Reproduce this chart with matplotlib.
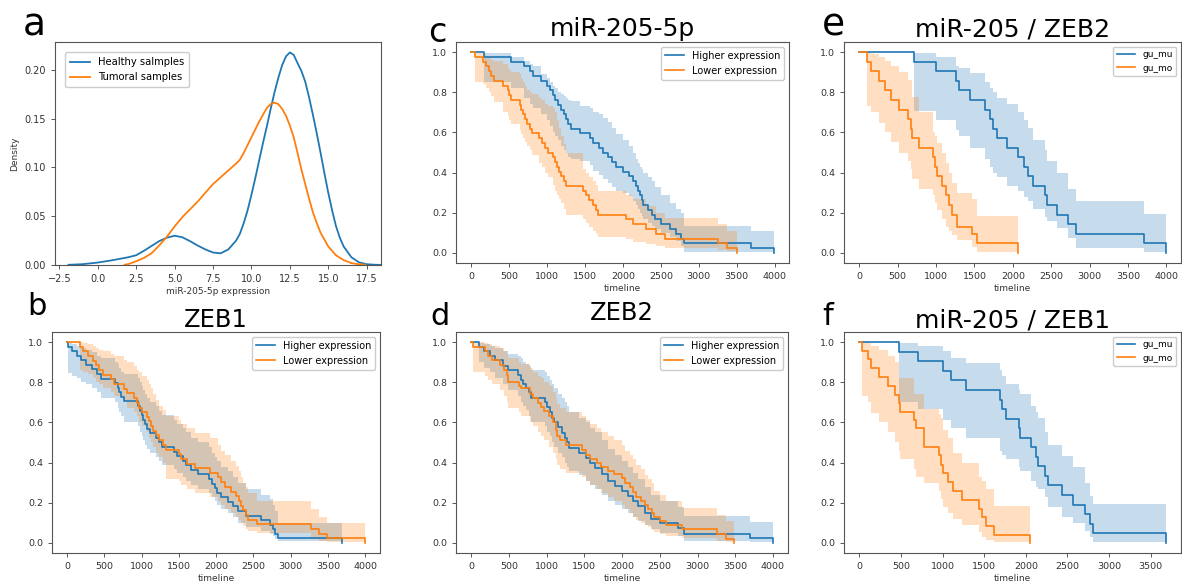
import matplotlib
matplotlib.use("Agg")
import matplotlib.pyplot as plt

plt.rcParams['font.family'] = ['DejaVu Sans']
plt.rcParams['axes.edgecolor'] = '#555555'
plt.rcParams['axes.linewidth'] = 0.8
plt.rcParams['xtick.color'] = '#555555'
plt.rcParams['ytick.color'] = '#555555'
plt.rcParams['xtick.labelcolor'] = '#333333'
plt.rcParams['ytick.labelcolor'] = '#333333'

BLUE = '#1f77b4'
ORANGE = '#ff7f0e'

# ---------------- panel a : density curves ----------------
a_healthy_x = [-1.9, -1.0, 0.0, 1.0, 2.0, 2.5, 3.0, 3.5, 4.0, 4.5, 5.0, 5.5, 6.0, 6.5, 7.0, 7.5, 8.0, 8.5,
               9.0, 9.25, 9.5, 9.75, 10.0, 10.25, 10.5, 10.75, 11.0, 11.25, 11.5, 11.75, 12.0, 12.25, 12.5,
               12.75, 13.0, 13.25, 13.5, 13.75, 14.0, 14.25, 14.5, 14.75, 15.0, 15.25, 15.5, 15.75, 16.0,
               16.5, 17.0, 17.5, 18.0, 18.4]
a_healthy_d = [0.0002, 0.0008, 0.0025, 0.005, 0.008, 0.010, 0.0145, 0.0195, 0.0245, 0.028, 0.030, 0.0285,
               0.0245, 0.020, 0.016, 0.0128, 0.012, 0.016, 0.025, 0.032, 0.043, 0.056, 0.072, 0.089, 0.107,
               0.125, 0.142, 0.160, 0.177, 0.192, 0.205, 0.214, 0.218, 0.2155, 0.207, 0.199, 0.188, 0.172,
               0.154, 0.135, 0.115, 0.094, 0.074, 0.056, 0.040, 0.028, 0.019, 0.008, 0.0027, 0.0008, 0.0003,
               0.0001]
a_tumoral_x = [1.75, 2.0, 2.5, 3.0, 3.5, 4.0, 4.5, 5.0, 5.5, 6.0, 6.5, 7.0, 7.5, 8.0, 8.5, 9.0, 9.25, 9.5,
               9.75, 10.0, 10.25, 10.5, 10.75, 11.0, 11.25, 11.5, 11.75, 12.0, 12.25, 12.5, 12.75, 13.0,
               13.25, 13.5, 13.75, 14.0, 14.25, 14.5, 15.0, 15.5, 16.0, 16.5, 17.0, 17.4]
a_tumoral_d = [0.0003, 0.001, 0.0038, 0.0072, 0.012, 0.020, 0.029, 0.0395, 0.049, 0.057, 0.065, 0.074,
               0.083, 0.090, 0.097, 0.104, 0.108, 0.115, 0.123, 0.131, 0.139, 0.147, 0.154, 0.161, 0.165,
               0.1665, 0.165, 0.160, 0.153, 0.143, 0.131, 0.115, 0.098, 0.083, 0.068, 0.054, 0.043, 0.033,
               0.019, 0.010, 0.005, 0.002, 0.0007, 0.0003]

# ---------------- panel c : miR-205-5p ----------------
c_high_t = [0, 165, 520, 700, 780, 820, 920, 1000, 1040, 1080, 1110, 1150, 1190, 1220, 1250, 1280, 1310,
            1430, 1570, 1610, 1680, 1740, 1800, 1860, 1910, 2000, 2083, 2130, 2170, 2200, 2230, 2250, 2270,
            2330, 2380, 2420, 2500, 2620, 2700, 2770, 2810, 3690, 3990]
c_high_s = [1.0, 0.976, 0.952, 0.929, 0.905, 0.881, 0.857, 0.833, 0.810, 0.786, 0.762, 0.738, 0.714, 0.690,
            0.667, 0.643, 0.619, 0.595, 0.571, 0.548, 0.524, 0.500, 0.476, 0.452, 0.429, 0.405, 0.381,
            0.357, 0.333, 0.310, 0.286, 0.262, 0.238, 0.214, 0.190, 0.167, 0.143, 0.119, 0.095, 0.071,
            0.048, 0.024, 0.0]
c_high_lo = [1.0, 0.85, 0.82, 0.77, 0.74, 0.72, 0.69, 0.66, 0.63, 0.60, 0.58, 0.56, 0.53, 0.51, 0.50, 0.48,
             0.47, 0.46, 0.44, 0.41, 0.39, 0.37, 0.35, 0.33, 0.31, 0.30, 0.285, 0.26, 0.24, 0.22, 0.20,
             0.185, 0.17, 0.15, 0.134, 0.12, 0.10, 0.08, 0.06, 0.035, 0.006, 0.003, 0.0]
c_high_up = [1.0, 0.997, 0.975, 0.955, 0.94, 0.93, 0.89, 0.87, 0.85, 0.83, 0.82, 0.80, 0.79, 0.78, 0.77,
             0.76, 0.755, 0.73, 0.72, 0.70, 0.69, 0.67, 0.65, 0.62, 0.59, 0.56, 0.53, 0.50, 0.47, 0.45,
             0.43, 0.42, 0.40, 0.38, 0.36, 0.33, 0.29, 0.25, 0.22, 0.20, 0.134, 0.109, 0.0]
c_low_t = [0, 55, 150, 200, 230, 260, 300, 420, 490, 500, 520, 640, 660, 680, 710, 740, 770, 800, 900, 930,
           980, 1015, 1080, 1100, 1130, 1160, 1190, 1220, 1255, 1470, 1510, 1550, 1600, 1640, 1670, 2040,
           2130, 2300, 2430, 2560, 3260, 3370, 3500]
c_low_s = [1.0, 0.976, 0.952, 0.929, 0.905, 0.881, 0.857, 0.833, 0.810, 0.786, 0.762, 0.738, 0.714, 0.690,
           0.667, 0.643, 0.619, 0.595, 0.571, 0.548, 0.524, 0.500, 0.476, 0.452, 0.429, 0.405, 0.381, 0.357,
           0.333, 0.310, 0.286, 0.262, 0.238, 0.214, 0.190, 0.167, 0.143, 0.119, 0.095, 0.071, 0.048,
           0.024, 0.0]
c_low_lo = [1.0, 0.85, 0.84, 0.82, 0.80, 0.78, 0.75, 0.70, 0.68, 0.66, 0.64, 0.61, 0.59, 0.57, 0.55, 0.53,
            0.51, 0.49, 0.45, 0.43, 0.40, 0.38, 0.34, 0.31, 0.29, 0.27, 0.25, 0.22, 0.19, 0.17, 0.15, 0.13,
            0.11, 0.095, 0.08, 0.067, 0.055, 0.045, 0.034, 0.025, 0.017, 0.008, 0.0]
c_low_up = [1.0, 0.997, 0.99, 0.98, 0.97, 0.96, 0.955, 0.94, 0.92, 0.91, 0.90, 0.89, 0.87, 0.85, 0.83,
            0.81, 0.80, 0.79, 0.77, 0.76, 0.74, 0.73, 0.72, 0.70, 0.66, 0.62, 0.58, 0.54, 0.50, 0.42, 0.40,
            0.38, 0.36, 0.34, 0.31, 0.29, 0.27, 0.235, 0.20, 0.175, 0.142, 0.109, 0.0]

# ---------------- panel e : miR-205 / ZEB2 ----------------
e_mu_t = [0, 710, 1000, 1255, 1298, 1438, 1634, 1700, 1743, 1787, 1926, 2070, 2144, 2200, 2266, 2418, 2440,
          2571, 2723, 2819, 3704, 3990]
e_mu_s = [1.0, 0.952, 0.905, 0.857, 0.810, 0.762, 0.714, 0.667, 0.619, 0.571, 0.524, 0.476, 0.429, 0.381,
          0.333, 0.286, 0.238, 0.190, 0.143, 0.095, 0.048, 0.0]
e_mu_lo = [1.0, 0.707, 0.66, 0.61, 0.58, 0.52, 0.47, 0.43, 0.40, 0.38, 0.335, 0.31, 0.28, 0.26, 0.22, 0.18,
           0.16, 0.125, 0.075, 0.025, 0.005, 0.0]
e_mu_up = [1.0, 0.995, 0.975, 0.93, 0.92, 0.895, 0.85, 0.82, 0.80, 0.77, 0.74, 0.70, 0.66, 0.62, 0.56, 0.51,
           0.46, 0.40, 0.32, 0.26, 0.196, 0.0]
e_mo_t = [0, 100, 152, 253, 340, 414, 514, 632, 667, 690, 776, 959, 980, 1011, 1081, 1133, 1164, 1211, 1270,
          1473, 1538, 2070]
e_mo_s = [1.0, 0.952, 0.905, 0.857, 0.810, 0.762, 0.714, 0.667, 0.619, 0.571, 0.524, 0.476, 0.429, 0.381,
          0.333, 0.286, 0.238, 0.190, 0.129, 0.095, 0.048, 0.0]
e_mo_lo = [1.0, 0.73, 0.70, 0.645, 0.60, 0.55, 0.50, 0.46, 0.42, 0.37, 0.32, 0.29, 0.25, 0.215, 0.17, 0.13,
           0.11, 0.09, 0.065, 0.03, 0.003, 0.0]
e_mo_up = [1.0, 1.0, 0.99, 0.975, 0.955, 0.93, 0.90, 0.86, 0.86, 0.774, 0.70, 0.60, 0.58, 0.545, 0.50, 0.45,
           0.40, 0.35, 0.30, 0.27, 0.185, 0.0]

# ---------------- panel b : ZEB1 ----------------
b_high_t = [0, 20, 70, 130, 190, 260, 330, 400, 460, 650, 680, 700, 730, 760, 950, 975, 1000, 1020, 1050,
            1080, 1120, 1190, 1240, 1280, 1440, 1480, 1550, 1600, 1660, 1760, 1900, 1940, 1980, 2010, 2070,
            2160, 2220, 2290, 2400, 2600, 2720, 2760, 2790, 2830, 3690]
b_high_s = [1.0, 0.977, 0.955, 0.932, 0.909, 0.886, 0.864, 0.841, 0.818, 0.795, 0.773, 0.750, 0.727, 0.705,
            0.682, 0.659, 0.636, 0.614, 0.591, 0.568, 0.545, 0.523, 0.500, 0.477, 0.455, 0.432, 0.409,
            0.386, 0.364, 0.341, 0.318, 0.295, 0.273, 0.250, 0.227, 0.205, 0.182, 0.159, 0.136, 0.114,
            0.091, 0.068, 0.045, 0.023, 0.0]
b_high_lo = [1.0, 0.845, 0.83, 0.82, 0.80, 0.79, 0.77, 0.75, 0.72, 0.70, 0.67, 0.65, 0.63, 0.60, 0.58, 0.55,
             0.53, 0.51, 0.49, 0.47, 0.45, 0.43, 0.41, 0.39, 0.37, 0.35, 0.33, 0.31, 0.29, 0.27, 0.25,
             0.23, 0.21, 0.19, 0.17, 0.15, 0.13, 0.10, 0.08, 0.06, 0.045, 0.035, 0.02, 0.008, 0.0]
b_high_up = [1.0, 0.997, 0.99, 0.98, 0.97, 0.96, 0.95, 0.93, 0.92, 0.90, 0.89, 0.87, 0.85, 0.84, 0.82, 0.80,
             0.78, 0.76, 0.74, 0.72, 0.70, 0.68, 0.655, 0.635, 0.61, 0.59, 0.57, 0.55, 0.52, 0.50, 0.48,
             0.45, 0.43, 0.41, 0.38, 0.36, 0.33, 0.30, 0.27, 0.24, 0.22, 0.19, 0.16, 0.10, 0.0]
b_low_t = [0, 175, 218, 283, 350, 392, 436, 480, 590, 630, 760, 800, 900, 940, 970, 1000, 1068, 1100, 1130,
           1155, 1198, 1240, 1285, 1330, 1500, 1525, 1612, 1721, 1917, 2026, 2070, 2114, 2201, 2266, 2300,
           2331, 2360, 2397, 2430, 2549, 3268, 3377, 3486, 3996]
b_low_s = [1.0, 0.977, 0.953, 0.930, 0.907, 0.884, 0.860, 0.837, 0.814, 0.791, 0.767, 0.744, 0.721, 0.698,
           0.674, 0.651, 0.628, 0.605, 0.581, 0.558, 0.535, 0.512, 0.488, 0.465, 0.442, 0.419, 0.395,
           0.372, 0.349, 0.326, 0.302, 0.279, 0.256, 0.233, 0.209, 0.186, 0.163, 0.140, 0.116, 0.093,
           0.070, 0.047, 0.023, 0.0]
b_low_lo = [1.0, 0.86, 0.85, 0.84, 0.82, 0.80, 0.79, 0.77, 0.75, 0.73, 0.70, 0.67, 0.65, 0.63, 0.60, 0.58,
            0.55, 0.52, 0.50, 0.48, 0.45, 0.43, 0.40, 0.32, 0.31, 0.29, 0.27, 0.25, 0.23, 0.21, 0.19, 0.17,
            0.15, 0.13, 0.115, 0.10, 0.085, 0.07, 0.06, 0.05, 0.02, 0.012, 0.005, 0.0]
b_low_up = [1.0, 1.0, 0.995, 0.99, 0.98, 0.97, 0.96, 0.955, 0.94, 0.93, 0.91, 0.90, 0.88, 0.86, 0.85, 0.83,
            0.81, 0.79, 0.77, 0.74, 0.71, 0.68, 0.66, 0.63, 0.61, 0.59, 0.57, 0.545, 0.52, 0.49, 0.46,
            0.44, 0.41, 0.385, 0.36, 0.33, 0.30, 0.28, 0.25, 0.21, 0.17, 0.13, 0.10, 0.0]

# ---------------- panel d : ZEB2 ----------------
d_high_t = [0, 100, 165, 250, 318, 427, 492, 620, 660, 688, 730, 770, 800, 980, 1000, 1040, 1070, 1100,
            1150, 1200, 1240, 1270, 1300, 1430, 1516, 1580, 1646, 1733, 1820, 1908, 1995, 2082, 2150, 2213,
            2300, 2387, 2500, 2736, 2823, 3694, 3999]
d_high_s = [1.0, 0.977, 0.955, 0.932, 0.91, 0.88, 0.86, 0.835, 0.81, 0.79, 0.77, 0.75, 0.72, 0.70, 0.675,
            0.65, 0.62, 0.60, 0.575, 0.545, 0.52, 0.50, 0.475, 0.45, 0.425, 0.40, 0.375, 0.345, 0.31, 0.285,
            0.26, 0.235, 0.21, 0.185, 0.15, 0.12, 0.10, 0.075, 0.047, 0.023, 0.0]
d_high_lo = [1.0, 0.90, 0.87, 0.85, 0.82, 0.79, 0.76, 0.73, 0.70, 0.68, 0.66, 0.63, 0.60, 0.58, 0.55, 0.53,
             0.50, 0.48, 0.45, 0.43, 0.40, 0.38, 0.36, 0.34, 0.31, 0.29, 0.27, 0.24, 0.21, 0.19, 0.17,
             0.15, 0.13, 0.11, 0.09, 0.07, 0.05, 0.035, 0.01, 0.005, 0.0]
d_high_up = [1.0, 0.997, 0.99, 0.98, 0.97, 0.955, 0.94, 0.93, 0.92, 0.90, 0.89, 0.88, 0.86, 0.85, 0.83,
             0.81, 0.79, 0.77, 0.74, 0.72, 0.70, 0.68, 0.65, 0.62, 0.60, 0.57, 0.55, 0.51, 0.47, 0.44,
             0.41, 0.38, 0.35, 0.32, 0.28, 0.24, 0.21, 0.18, 0.134, 0.105, 0.0]
d_low_t = [0, 30, 190, 230, 280, 383, 440, 470, 490, 640, 666, 775, 820, 884, 930, 971, 1030, 1080, 1124,
           1140, 1180, 1255, 1472, 1520, 1580, 1668, 1720, 1820, 1900, 1995, 2040, 2100, 2150, 2191, 2250,
           2300, 2340, 2400, 2427, 2500, 2584, 2800, 3263, 3372, 3481]
d_low_s = [1.0, 0.977, 0.955, 0.932, 0.91, 0.887, 0.86, 0.835, 0.80, 0.78, 0.77, 0.74, 0.72, 0.695, 0.675,
           0.655, 0.63, 0.60, 0.56, 0.53, 0.51, 0.49, 0.465, 0.44, 0.42, 0.40, 0.38, 0.36, 0.345, 0.325,
           0.30, 0.28, 0.255, 0.23, 0.21, 0.19, 0.17, 0.15, 0.13, 0.11, 0.09, 0.067, 0.045, 0.022, 0.0]
d_low_lo = [1.0, 0.85, 0.83, 0.81, 0.79, 0.76, 0.73, 0.70, 0.67, 0.65, 0.63, 0.60, 0.58, 0.55, 0.53, 0.51,
            0.48, 0.45, 0.42, 0.39, 0.37, 0.35, 0.33, 0.31, 0.29, 0.27, 0.25, 0.23, 0.21, 0.19, 0.17,
            0.15, 0.13, 0.115, 0.10, 0.09, 0.08, 0.065, 0.055, 0.045, 0.035, 0.025, 0.012, 0.005, 0.0]
d_low_up = [1.0, 1.0, 0.997, 0.99, 0.98, 0.97, 0.955, 0.94, 0.92, 0.90, 0.89, 0.87, 0.85, 0.83, 0.82, 0.80,
            0.78, 0.75, 0.72, 0.69, 0.67, 0.65, 0.63, 0.61, 0.59, 0.57, 0.55, 0.53, 0.51, 0.49, 0.46,
            0.44, 0.42, 0.39, 0.37, 0.34, 0.32, 0.30, 0.26, 0.24, 0.21, 0.175, 0.14, 0.11, 0.0]

# ---------------- panel f : miR-205 / ZEB1 ----------------
f_mu_t = [0, 475, 710, 1000, 1100, 1285, 1690, 1715, 1765, 1915, 1925, 2065, 2125, 2150, 2225, 2265, 2440,
          2565, 2715, 2770, 2810, 3680]
f_mu_s = [1.0, 0.952, 0.905, 0.857, 0.810, 0.762, 0.714, 0.667, 0.619, 0.571, 0.524, 0.476, 0.429, 0.381,
          0.333, 0.286, 0.238, 0.190, 0.143, 0.095, 0.048, 0.0]
f_mu_lo = [1.0, 0.70, 0.665, 0.61, 0.57, 0.52, 0.46, 0.44, 0.42, 0.38, 0.36, 0.31, 0.28, 0.27, 0.23, 0.18,
           0.13, 0.10, 0.06, 0.03, 0.003, 0.0]
f_mu_up = [1.0, 0.997, 0.98, 0.955, 0.92, 0.895, 0.86, 0.83, 0.79, 0.76, 0.74, 0.68, 0.65, 0.62, 0.55, 0.49,
           0.435, 0.38, 0.30, 0.235, 0.196, 0.0]
f_mo_t = [0, 32, 100, 140, 233, 341, 433, 473, 493, 662, 682, 782, 954, 982, 1010, 1070, 1122, 1230, 1443,
          1475, 1524, 1616, 2045]
f_mo_s = [1.0, 0.955, 0.915, 0.87, 0.825, 0.78, 0.737, 0.695, 0.65, 0.61, 0.57, 0.477, 0.436, 0.39, 0.348,
          0.305, 0.26, 0.214, 0.17, 0.129, 0.084, 0.042, 0.0]
f_mo_lo = [1.0, 0.73, 0.70, 0.645, 0.60, 0.55, 0.50, 0.46, 0.42, 0.37, 0.33, 0.30, 0.26, 0.22, 0.18, 0.15,
           0.12, 0.09, 0.055, 0.03, 0.015, 0.003, 0.0]
f_mo_up = [1.0, 1.0, 0.995, 0.98, 0.96, 0.93, 0.90, 0.82, 0.82, 0.74, 0.74, 0.665, 0.64, 0.62, 0.56, 0.52,
           0.45, 0.40, 0.33, 0.31, 0.27, 0.185, 0.0]

W, H = 1182, 581
fig = plt.figure(figsize=(W / 100, H / 100), dpi=100)


def add_axes(l, t, r, b):
    return fig.add_axes([l / W, 1 - b / H, (r - l) / W, (b - t) / H])


def km(ax, t, s, lo, up, color, label):
    ax.fill_between(t, lo, up, step='post', color=color, alpha=0.25, linewidth=0)
    ax.step(t, s, where='post', color=color, lw=1.2, label=label)


def style(ax, xticks):
    ax.set_xticks(xticks)
    ax.set_yticks([0.0, 0.2, 0.4, 0.6, 0.8, 1.0])
    ax.set_yticklabels(['0.0', '0.2', '0.4', '0.6', '0.8', '1.0'])
    ax.tick_params(labelsize=6.8, length=3, width=0.7)
    ax.set_xlabel('timeline', fontsize=6.5, color='#333333', labelpad=2)
    ax.margins(x=0.05, y=0.05)


# panel a
ax = add_axes(55, 42, 381, 265)
ax.plot(a_healthy_x, a_healthy_d, color=BLUE, lw=1.3, label='Healthy salmples')
ax.plot(a_tumoral_x, a_tumoral_d, color=ORANGE, lw=1.3, label='Tumoral samples')
ax.set_xlim(-2.78, 18.43)
ax.set_ylim(0, 0.2287)
ax.set_xticks([-2.5, 0.0, 2.5, 5.0, 7.5, 10.0, 12.5, 15.0, 17.5])
ax.set_yticks([0.0, 0.05, 0.10, 0.15, 0.20])
ax.set_yticklabels(['0.00', '0.05', '0.10', '0.15', '0.20'])
ax.tick_params(labelsize=7, length=3, width=0.7)
ax.set_xlabel('miR-205-5p expression', fontsize=6.5, color='#333333', labelpad=2)
ax.set_ylabel('Density', fontsize=6.5, color='#333333')
ax.legend(loc='upper left', fontsize=7.2, framealpha=1, edgecolor='#cccccc', handlelength=2.0,
          borderaxespad=1.0, borderpad=0.5)

# panel c
ax = add_axes(456, 42, 789, 263)
km(ax, c_high_t, c_high_s, c_high_lo, c_high_up, BLUE, 'Higher expression')
km(ax, c_low_t, c_low_s, c_low_lo, c_low_up, ORANGE, 'Lower expression')
style(ax, [0, 500, 1000, 1500, 2000, 2500, 3000, 3500, 4000])
ax.set_title('miR-205-5p', fontsize=18, pad=4)
ax.legend(loc='upper right', fontsize=7, framealpha=1, edgecolor='#cccccc')

# panel e
ax = add_axes(844, 42, 1181, 263)
km(ax, e_mu_t, e_mu_s, e_mu_lo, e_mu_up, BLUE, 'gu_mu')
km(ax, e_mo_t, e_mo_s, e_mo_lo, e_mo_up, ORANGE, 'gu_mo')
style(ax, [0, 500, 1000, 1500, 2000, 2500, 3000, 3500, 4000])
ax.set_title('miR-205 / ZEB2', fontsize=18, pad=4)
ax.legend(loc='upper right', fontsize=6.5, framealpha=1, edgecolor='#cccccc')

# panel b
ax = add_axes(52, 332, 380, 553)
km(ax, b_high_t, b_high_s, b_high_lo, b_high_up, BLUE, 'Higher expression')
km(ax, b_low_t, b_low_s, b_low_lo, b_low_up, ORANGE, 'Lower expression')
style(ax, [0, 500, 1000, 1500, 2000, 2500, 3000, 3500, 4000])
ax.set_title('ZEB1', fontsize=17.5, pad=2)
ax.legend(loc='upper right', fontsize=7, framealpha=1, edgecolor='#cccccc')

# panel d
ax = add_axes(456, 332, 788, 553)
km(ax, d_high_t, d_high_s, d_high_lo, d_high_up, BLUE, 'Higher expression')
km(ax, d_low_t, d_low_s, d_low_lo, d_low_up, ORANGE, 'Lower expression')
style(ax, [0, 500, 1000, 1500, 2000, 2500, 3000, 3500, 4000])
ax.set_title('ZEB2', fontsize=17.5, pad=9)
ax.legend(loc='upper right', fontsize=7, framealpha=1, edgecolor='#cccccc')

# panel f
ax = add_axes(844, 332, 1181, 553)
km(ax, f_mu_t, f_mu_s, f_mu_lo, f_mu_up, BLUE, 'gu_mu')
km(ax, f_mo_t, f_mo_s, f_mo_lo, f_mo_up, ORANGE, 'gu_mo')
style(ax, [0, 500, 1000, 1500, 2000, 2500, 3000, 3500])
ax.set_title('miR-205 / ZEB1', fontsize=18, pad=3.5)
ax.legend(loc='upper right', fontsize=6.5, framealpha=1, edgecolor='#cccccc')

# panel letters
letters = [('a', 23, 35, 27), ('c', 428, 42, 24), ('e', 822, 35, 27),
           ('b', 27, 315, 22), ('d', 430, 325, 22), ('f', 822, 325, 22)]
for txt, x, y, size in letters:
    fig.text(x / W, 1 - y / H, txt, fontsize=size, ha='left', va='baseline', color='black')

fig.savefig('out.png', dpi=100)
